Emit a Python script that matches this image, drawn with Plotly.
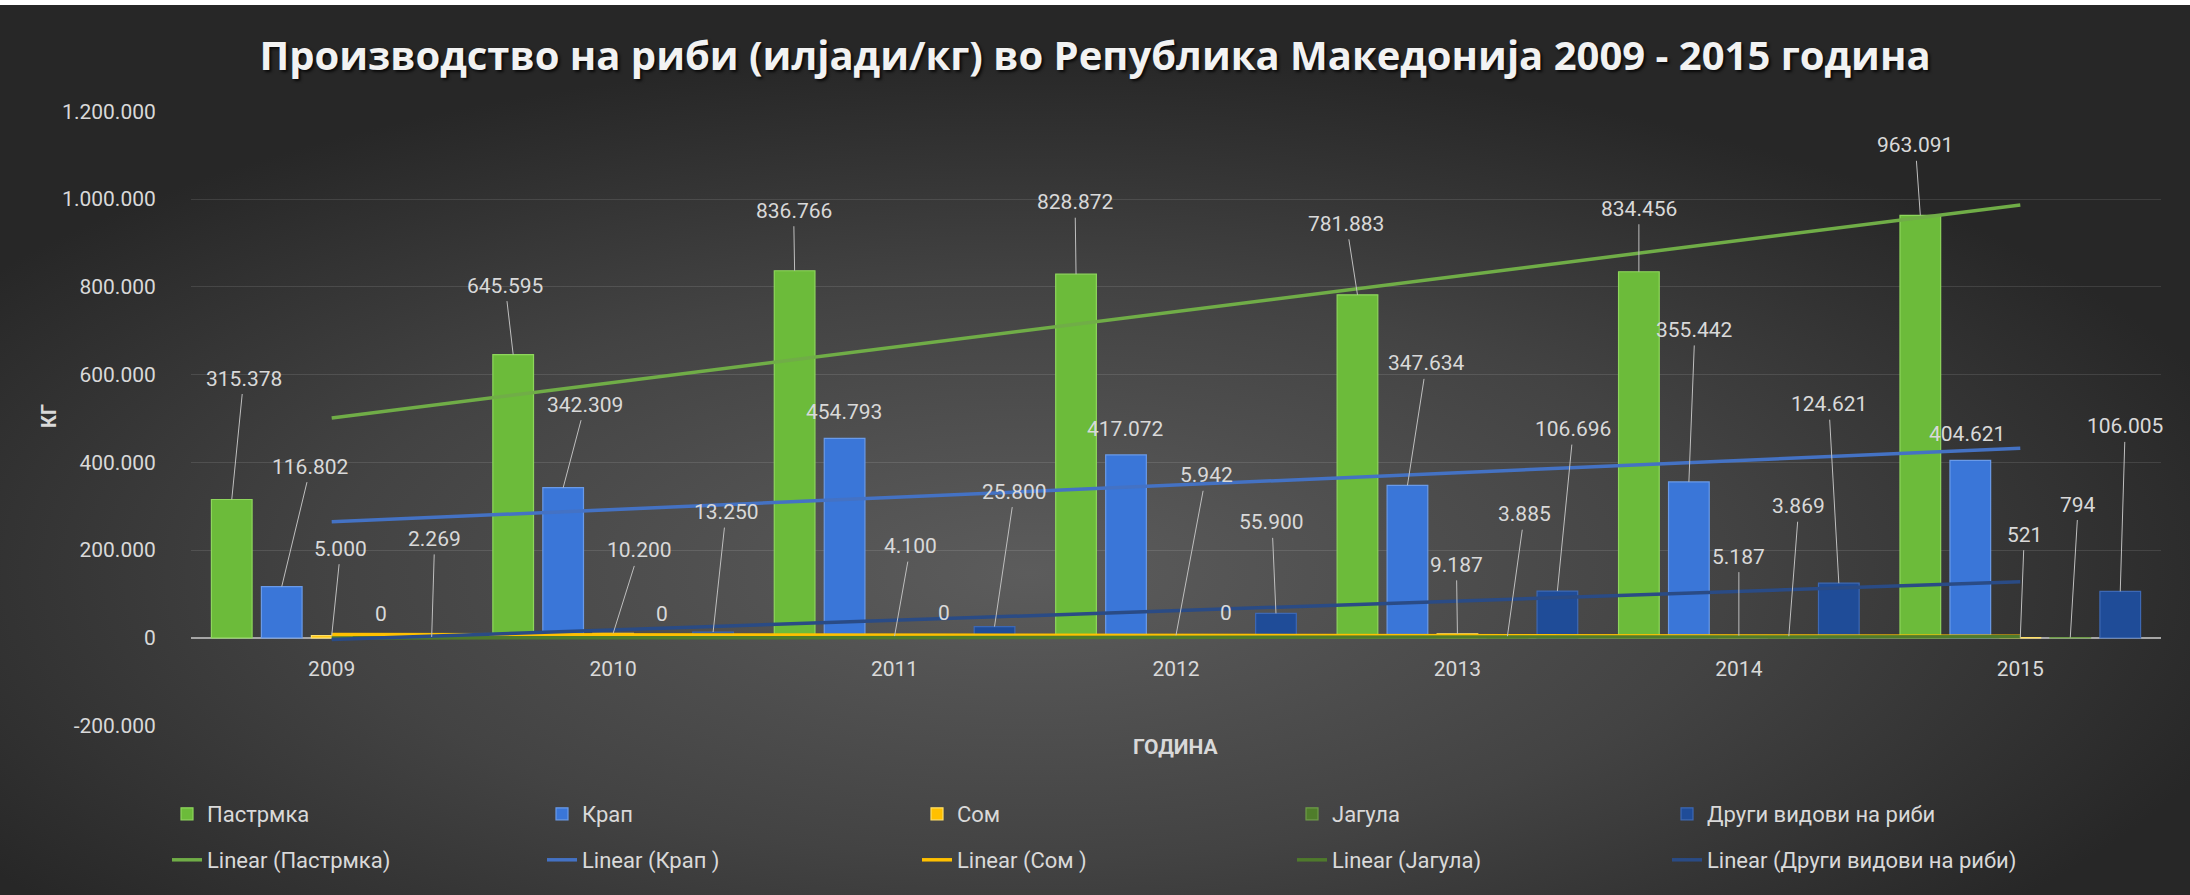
import base64
import numpy as np
import plotly.graph_objects as go

# ---------------- data ----------------
years = ["2009", "2010", "2011", "2012", "2013", "2014", "2015"]
series_names = ["Пастрмка", "Крап", "Сом", "Јагула", "Други видови на риби"]
trend_names = ["Linear (Пастрмка)", "Linear (Крап )", "Linear (Сом )",
               "Linear (Јагула)", "Linear (Други видови на риби)"]
pastrmka = [315378, 645595, 836766, 828872, 781883, 834456, 963091]
krap = [116802, 342309, 454793, 417072, 347634, 355442, 404621]
som = [5000, 10200, 4100, 5942, 9187, 5187, 521]
jagula = [0, 0, 0, 0, 3885, 3869, 794]
drugi = [2269, 13250, 25800, 55900, 106696, 124621, 106005]
y_ticks = [-200000, 0, 200000, 400000, 600000, 800000, 1000000, 1200000]

title_text = "Производство на риби (илјади/кг) во Република Македонија 2009 - 2015 година"
x_title = "ГОДИНА"
y_title = "КГ"

# ---------------- styles ----------------
bar_colors = ["#6cbb3a", "#3a76d8", "#ffc000", "#4f7d2b", "#1f4c98"]
bar_edges = ["#8ed65c", "#6a9ae8", "#ffe066", "#6e9c48", "#3d68b4"]
trend_colors = ["#70ad47", "#4472c4", "#ffc000", "#4f7a2c", "#2a4b85"]
TXT = "#d9d9d9"
FONT = "Roboto"

# label offsets (pixels from bar top) and leader-line flag per series / year
label_pos = [
    [(12, -121, 1), (-8, -69, 1), (-1, -60, 1), (-1, -72, 1), (-11, -71, 1), (0, -63, 1), (-5, -70, 1)],
    [(29, -120, 1), (22, -83, 1), (-1, -26, 0), (-1, -26, 0), (19, -122, 1), (6, -152, 1), (-3, -26, 0)],
    [(9, -87, 1), (26, -83, 1), (16, -90, 1), (30, -160, 1), (-1, -69, 1), (0, -79, 1), (4, -103, 1)],
    [(-1, -24, 0), (-1, -24, 0), (-1, -25, 0), (0, -25, 0), (17, -122, 1), (10, -130, 1), (8, -133, 1)],
    [(3, -98, 1), (13, -120, 1), (20, -135, 1), (-4, -91, 1), (16, -162, 1), (-10, -179, 1), (5, -165, 1)],
]

W, H = 2190, 895
ML, MR, MT, MB = 191, 29, 111, 169
PW, PH = W - ML - MR, H - MT - MB
YMIN, YMAX = -200000, 1200000
BARGAP, GROUPGAP = 0.112, 0.186


def fmt(v):
    s = f"{abs(v):,}".replace(",", ".")
    return ("-" if v < 0 else "") + s


all_series = [pastrmka, krap, som, jagula, drugi]
xs = list(range(len(years)))

fig = go.Figure()
for i, (name, vals) in enumerate(zip(series_names, all_series)):
    fig.add_trace(go.Bar(
        x=xs, y=vals, name=name, legend="legend",
        marker=dict(color=bar_colors[i], line=dict(color=bar_edges[i], width=1.2)),
    ))

xarr = np.array(xs, dtype=float)
for i, (name, vals) in enumerate(zip(trend_names, all_series)):
    m, b = np.polyfit(xarr, np.array(vals, dtype=float), 1)
    fig.add_trace(go.Scatter(
        x=[xs[0], xs[-1]], y=[m * xs[0] + b, m * xs[-1] + b],
        mode="lines", name=name, legend="legend2",
        line=dict(color=trend_colors[i], width=3.5),
    ))

# data labels
slot = (1 - BARGAP) / len(all_series)
annotations = []
for j, vals in enumerate(all_series):
    for k, v in enumerate(vals):
        dx, dy, line = label_pos[j][k]
        annotations.append(dict(
            x=k + (j - 2) * slot, y=v, xref="x", yref="y",
            text=fmt(v), showarrow=True, arrowhead=0, arrowwidth=1,
            arrowcolor="#bfbfbf" if line else "rgba(0,0,0,0)",
            ax=dx, ay=dy, borderpad=3,
            font=dict(family=FONT, size=21, color=TXT),
        ))

annotations.append(dict(
    x=0.5, y=((H - 747) - MB) / PH, xref="paper", yref="paper", text=x_title,
    xanchor="center", yanchor="middle", showarrow=False,
    font=dict(family=FONT, size=21, color=TXT, weight="bold"),
))
annotations.append(dict(
    x=(49 - ML) / PW, y=((H - 416) - MB) / PH, xref="paper", yref="paper", text=y_title,
    xanchor="center", yanchor="middle", textangle=-90, showarrow=False,
    font=dict(family=FONT, size=20, color=TXT, weight="bold"),
))

svg = (
    f'<svg xmlns="http://www.w3.org/2000/svg" width="{W}" height="{H}" '
    f'viewBox="0 0 {W} {H}" preserveAspectRatio="none"><defs>'
    '<radialGradient id="g" cx="0.47" cy="0.64" r="0.58">'
    '<stop offset="0" stop-color="#5c5c5c"/><stop offset="0.55" stop-color="#434343"/>'
    '<stop offset="1" stop-color="#272727"/></radialGradient></defs>'
    f'<rect width="{W}" height="{H}" fill="url(#g)"/></svg>'
)
bg_src = "data:image/svg+xml;base64," + base64.b64encode(svg.encode()).decode()

legend_common = dict(
    orientation="h", xref="container", yref="container",
    x=167 / W, xanchor="left", yanchor="middle",
    entrywidth=330, entrywidthmode="pixels", bgcolor="rgba(0,0,0,0)",
    font=dict(family=FONT, size=22, color=TXT), traceorder="normal",
)

fig.update_layout(
    width=W, height=H,
    margin=dict(l=ML, r=MR, t=MT, b=MB),
    paper_bgcolor="#2b2b2b", plot_bgcolor="rgba(0,0,0,0)",
    barmode="group", bargap=BARGAP, bargroupgap=GROUPGAP,
    font=dict(family=FONT, color=TXT),
    title=dict(
        text=title_text, x=0.5, xref="container", xanchor="center",
        y=1 - 56 / H, yref="container", yanchor="middle",
        font=dict(family="Open Sans", size=40, color="#f2f2f2", weight="bold",
                  shadow="2px 2px 3px rgba(0,0,0,0.8)"),
    ),
    xaxis=dict(
        range=[-0.5, len(years) - 0.5], tickmode="array", tickvals=xs, ticktext=years,
        anchor="free", position=(0 - YMIN) / (YMAX - YMIN),
        showline=True, linecolor="#a6a6a6", linewidth=2, showgrid=False, zeroline=False,
        ticks="outside", ticklen=12, tickcolor="rgba(0,0,0,0)",
        tickfont=dict(family=FONT, size=21, color=TXT), layer="below traces",
    ),
    yaxis=dict(
        range=[YMIN - 800, YMAX + 800], tickmode="array", tickvals=y_ticks,
        ticktext=[fmt(v) for v in y_ticks],
        showgrid=True, gridcolor="rgba(255,255,255,0.11)", gridwidth=1.3,
        zeroline=False, showline=False,
        ticks="outside", ticklen=30, tickcolor="rgba(0,0,0,0)",
        tickfont=dict(family=FONT, size=21, color=TXT),
    ),
    legend=dict(legend_common, y=1 - 814 / H),
    legend2=dict(legend_common, y=1 - 860 / H),
    annotations=annotations,
    images=[dict(
        source=bg_src, xref="paper", yref="paper",
        x=-ML / PW, y=1 + MT / PH, sizex=W / PW, sizey=H / PH,
        xanchor="left", yanchor="top", sizing="stretch", layer="below",
    )],
    shapes=[dict(
        type="rect", xref="paper", yref="paper",
        x0=-ML / PW, x1=(W - ML) / PW, y0=1 + (MT - 5) / PH, y1=1 + MT / PH,
        fillcolor="white", line=dict(width=0), layer="above",
    )],
)

fig.write_html(
    "out.html",
    config={"displayModeBar": False},
    post_script="document.body.style.margin='0';document.body.style.overflow='hidden';",
)
